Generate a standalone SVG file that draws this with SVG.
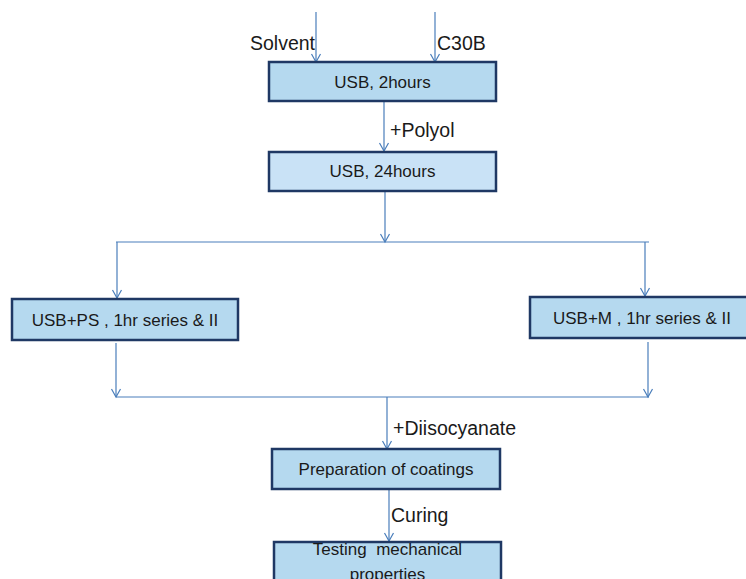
<svg xmlns="http://www.w3.org/2000/svg" width="746" height="579" viewBox="0 0 746 579">
<style>
.box{fill:#b5d9ef;stroke:#1f3864;stroke-width:2.5}
.box2{fill:#c9e2f6;stroke:#1f3864;stroke-width:2.5}
.t{font-family:"Liberation Sans",Arial,sans-serif;font-size:17px;fill:#1a1a1a;text-anchor:middle}
.lbl{font-family:"Liberation Sans",Arial,sans-serif;font-size:19.5px;fill:#1a1a1a}
.ln{stroke:#4a7ebb;stroke-width:1.2;fill:none}
</style>
<defs>
<marker id="ah" markerUnits="userSpaceOnUse" markerWidth="12" markerHeight="12" viewBox="-10 -6 12 12" refX="0" refY="0" orient="auto">
<path d="M-8,-4.5 L0,0 L-8,4.5" fill="none" stroke="#4a7ebb" stroke-width="1.2"/>
</marker>
</defs>
<rect width="746" height="579" fill="#ffffff"/>
<g id="connectors">
<line class="ln" x1="316" y1="12" x2="316" y2="62" marker-end="url(#ah)"/>
<line class="ln" x1="435" y1="12" x2="435" y2="62" marker-end="url(#ah)"/>
<line class="ln" x1="384" y1="102" x2="384" y2="151" marker-end="url(#ah)"/>
<line class="ln" x1="385" y1="192" x2="385" y2="242" marker-end="url(#ah)"/>
<line class="ln" x1="116" y1="242" x2="649" y2="242"/>
<line class="ln" x1="117" y1="242" x2="117" y2="298" marker-end="url(#ah)"/>
<line class="ln" x1="645" y1="242" x2="645" y2="296" marker-end="url(#ah)"/>
<line class="ln" x1="116" y1="343" x2="116" y2="397" marker-end="url(#ah)"/>
<line class="ln" x1="648" y1="342" x2="648" y2="397" marker-end="url(#ah)"/>
<line class="ln" x1="116" y1="397" x2="649" y2="397"/>
<line class="ln" x1="387" y1="397" x2="387" y2="449" marker-end="url(#ah)"/>
<line class="ln" x1="389" y1="490" x2="389" y2="541" marker-end="url(#ah)"/>
</g>
<g id="label-solvent"><text class="lbl" x="250" y="50">Solvent</text></g>
<g id="label-c30b"><text class="lbl" x="437" y="50">C30B</text></g>
<g id="label-polyol"><text class="lbl" x="390" y="137">+Polyol</text></g>
<g id="label-diiso"><text class="lbl" x="393" y="435">+Diisocyanate</text></g>
<g id="label-curing"><text class="lbl" x="391" y="522">Curing</text></g>
<g id="node-usb2">
<rect class="box" x="269" y="62" width="227" height="39"/>
<text class="t" x="382.5" y="88">USB, 2hours</text>
</g>
<g id="node-usb24">
<rect class="box2" x="269" y="152" width="227" height="39"/>
<text class="t" x="382.5" y="177">USB, 24hours</text>
</g>
<g id="node-usbps">
<rect class="box" x="12" y="299" width="226" height="41"/>
<text class="t" x="125" y="326">USB+PS , 1hr series &amp; II</text>
</g>
<g id="node-usbm">
<rect class="box" x="530" y="297" width="226" height="41"/>
<text class="t" x="642" y="324">USB+M , 1hr series &amp; II</text>
</g>
<g id="node-prep">
<rect class="box" x="272" y="449" width="228" height="40"/>
<text class="t" x="386" y="475">Preparation of coatings</text>
</g>
<g id="node-testing">
<rect class="box" x="274" y="542" width="227" height="50"/>
<text class="t" x="387.5" y="555" xml:space="preserve">Testing  mechanical</text>
<text class="t" x="387.5" y="580">properties</text>
</g>
</svg>
